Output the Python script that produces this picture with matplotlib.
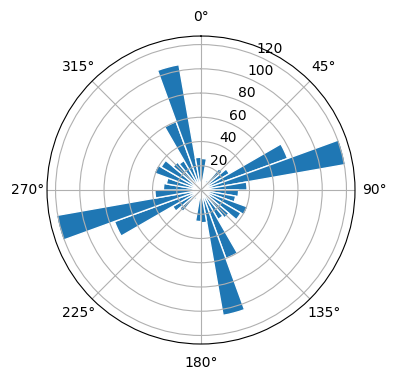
import numpy as np
from matplotlib import pyplot as plt

# Bin start angles (degrees), 10 degree bins over half a circle
bin_starts = np.arange(0, 180, 10)

# Counts per bin for 0-180, mirrored onto 180-360
half_counts = [26, 8, 6, 10, 23, 27, 76, 121, 38, 31, 29, 41, 38, 30, 28, 60, 105, 27]

angles = np.concatenate([bin_starts, bin_starts + 180])
counts = np.concatenate([half_counts, half_counts])

fig = plt.figure(figsize=(3.96, 3.8), dpi=100)
ax = fig.add_axes([0.1187, 0.0947, 0.7778, 0.8105], projection="polar")
ax.set_theta_zero_location("N")
ax.set_theta_direction(-1)

ax.bar(np.deg2rad(angles), counts, width=np.deg2rad(10), align="edge",
       bottom=0.0, edgecolor="white", linewidth=1)

fig.savefig("out.png", dpi=100)
